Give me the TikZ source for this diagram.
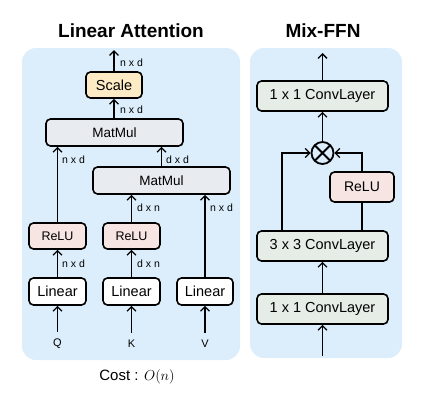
\documentclass[tikz,border=0pt]{standalone}
\usepackage{fontspec}
\setmainfont{Liberation Sans}
\usetikzlibrary{arrows.meta,calc}
\definecolor{panelc}{HTML}{DCEEFB}
\definecolor{scalec}{HTML}{FCEBC4}
\definecolor{mmc}{HTML}{E8EBF0}
\definecolor{reluc}{HTML}{F7E5E3}
\definecolor{convc}{HTML}{E6EDE6}
\tikzset{
  x=1pt,y=-1pt,
  panel/.style={fill=panelc,draw=none,rounded corners=14pt},
  blk/.style={draw=black,line width=1.6pt,rounded corners=4.5pt,inner sep=0pt,font=\fontsize{14.5}{16}\selectfont},
  arr/.style={line width=1.3pt,-{Straight Barb[length=4.5pt,width=9pt,line width=1.3pt]}},
  ln/.style={line width=1.3pt},
  dim/.style={anchor=west,inner sep=0pt,font=\fontsize{10.5}{12}\selectfont},
  ttl/.style={font=\fontsize{19}{22}\selectfont\bfseries},
  io/.style={inner sep=0pt,font=\fontsize{11}{13}\selectfont}
}
\begin{document}
\begin{tikzpicture}
\useasboundingbox (0,0) rectangle (439,405);
\fill[panel] (22,48) rectangle (240,360);
\fill[panel] (250,48) rectangle (402,358);
\node[ttl] (t1) at (131,31) {Linear Attention};
\node[ttl] (t2) at (323,31) {Mix-FFN};
% left
\node[blk,fill=scalec,minimum width=56pt,minimum height=26pt] (sc) at (114,85) {Scale};
\node[blk,fill=mmc,minimum width=137pt,minimum height=27pt,font=\fontsize{13.5}{15}\selectfont] (mm1) at (114.5,132.5) {MatMul};
\node[blk,fill=mmc,minimum width=137pt,minimum height=27pt,font=\fontsize{13.5}{15}\selectfont] (mm2) at (161.5,180.5) {MatMul};
\node[blk,fill=reluc,minimum width=57pt,minimum height=26pt,font=\fontsize{12.5}{14}\selectfont] (r1) at (57.5,236) {ReLU};
\node[blk,fill=reluc,minimum width=57pt,minimum height=26pt,font=\fontsize{12.5}{14}\selectfont] (r2) at (131.5,236) {ReLU};
\node[blk,fill=white,minimum width=57pt,minimum height=27pt] (l1) at (57.5,291.5) {Linear};
\node[blk,fill=white,minimum width=57pt,minimum height=27pt] (l2) at (131.5,291.5) {Linear};
\node[blk,fill=white,minimum width=56pt,minimum height=27pt] (l3) at (205,291.5) {Linear};
\node[io] (q) at (57.5,344) {Q};
\node[io] (k) at (131.5,344) {K};
\node[io] (v) at (205,344) {V};
\coordinate (out1) at (114,50);
\draw[arr] ([yshift=7pt]q.north) -- (l1.south);
\draw[arr] ([yshift=7pt]k.north) -- (l2.south);
\draw[arr] ([yshift=7pt]v.north) -- (l3.south);
\draw[arr] (l1) -- (r1);
\draw[arr] (l2) -- (r2);
\draw[arr] (r1.north) -- (r1.north |- mm1.south);
\draw[arr] (r2.north) -- (r2.north |- mm2.south);
\draw[arr] (l3.north) -- (l3.north |- mm2.south);
\draw[arr] (mm2.north) -- (mm2.north |- mm1.south);
\draw[arr] (mm1.north -| sc) -- (sc.south);
\draw[arr] (sc.north) -- (out1);
\node[dim] (d1) at (120,63) {n x d};
\node[dim] (d2) at (120,110) {n x d};
\node[dim] (d3) at (62,160) {n x d};
\node[dim] (d4) at (166,160) {d x d};
\node[dim] (d5) at (137,208) {d x n};
\node[dim] (d6) at (210,208) {n x d};
\node[dim] (d7) at (62,264) {n x d};
\node[dim] (d8) at (137,264) {d x n};
\node (cost) at (137,377) {\fontsize{15}{17}\selectfont Cost : $O(n)$};
% right
\node[blk,fill=convc,minimum width=131pt,minimum height=30pt] (c1t) at (322.5,96) {1 x 1 ConvLayer};
\node[circle,draw,line width=1.8pt,minimum size=22pt,inner sep=0pt,
  path picture={\draw[line width=1.8pt] (path picture bounding box.south west) -- (path picture bounding box.north east)
    (path picture bounding box.north west) -- (path picture bounding box.south east);}] (ot) at (322.5,153) {};
\node[blk,fill=reluc,minimum width=64pt,minimum height=30pt,font=\fontsize{14}{16}\selectfont] (r3) at (362,187) {ReLU};
\node[blk,fill=convc,minimum width=131pt,minimum height=30pt] (c3) at (322.5,246) {3 x 3 ConvLayer};
\node[blk,fill=convc,minimum width=131pt,minimum height=30pt] (c1b) at (322.5,309) {1 x 1 ConvLayer};
\coordinate (in2) at (322.5,356);
\coordinate (out2) at (322.5,53);
\coordinate (lb) at (282,200);
\draw[arr] (in2) -- (c1b.south);
\draw[arr] (c1b) -- (c3);
\draw[ln] (c3.north -| r3) -- (r3.south);
\draw[arr] (r3.north) |- (ot.east);
\draw[arr] (c3.north -| lb) |- (ot.west);
\draw[arr] (ot) -- (c1t);
\draw[arr] (c1t.north) -- (out2);
\end{tikzpicture}
\end{document}
